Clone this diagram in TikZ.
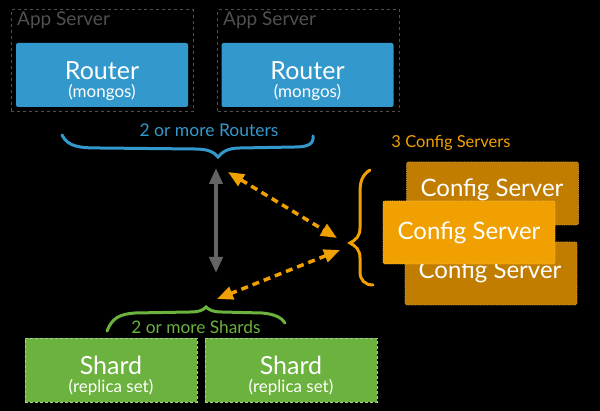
\documentclass[tikz,border=0pt]{standalone}
\usepackage{fontspec}
\setmainfont{Lato}
\usetikzlibrary{arrows.meta,positioning}

\definecolor{routerblue}{RGB}{51,153,204}
\definecolor{cfgdark}{RGB}{192,125,0}
\definecolor{cfgorange}{RGB}{240,160,0}
\definecolor{shardgreen}{RGB}{108,178,62}
\definecolor{appgray}{RGB}{80,80,80}
\definecolor{arrowgray}{RGB}{100,100,100}

\tikzset{
  appbox/.style={draw=appgray, dashed, line width=1pt, minimum width=182pt, minimum height=102pt},
  routerbox/.style={fill=routerblue, rounded corners=2pt, minimum width=172pt, minimum height=64pt, inner sep=0pt},
  cfgbox/.style={draw=#1!70!white, densely dotted, line width=0.8pt, fill=#1, rounded corners=2pt,
    minimum width=172pt, minimum height=63pt, text=white, inner sep=0pt, font=\fontsize{24}{24}\selectfont},
  shardbox/.style={draw=shardgreen!60!white, densely dashed, line width=0.8pt, fill=shardgreen,
    minimum width=172pt, minimum height=64pt, inner sep=0pt},
  bigtext/.style={text=white, anchor=base, inner sep=0pt, font=\fontsize{25}{26}\selectfont},
  smalltext/.style={text=white, anchor=base, inner sep=0pt, font=\fontsize{17}{17}\selectfont},
  bracestyle/.style={line width=3pt, line cap=round},
  twoway/.style={{Triangle[length=16pt,width=13pt]}-{Triangle[length=16pt,width=13pt]}},
}

\begin{document}
\begin{tikzpicture}[x=1pt, y=-1pt]
  % Fundo
  \fill[black] (0,0) rectangle (600,411);
  \useasboundingbox (0,0) rectangle (600,411);

  % App Servers e Routers
  \node[appbox] (app1) at (102,61) {};
  \node[appbox] (app2) at (308.5,61) {};
  \node[text=appgray, font=\fontsize{19}{20}\selectfont, anchor=north west, inner sep=0pt] (app1l) at (17,12) {App Server};
  \node[text=appgray, font=\fontsize{19}{20}\selectfont, anchor=north west, inner sep=0pt] (app2l) at (223,12) {App Server};
  \node[routerbox] (rt1) at (102,75) {};
  \node[routerbox] (rt2) at (307.5,75) {};
  \node[bigtext] (rt1a) at (102,80) {Router};
  \node[smalltext] (rt1b) at (102,98) {(mongos)};
  \node[bigtext] (rt2a) at (307.5,80) {Router};
  \node[smalltext] (rt2b) at (307.5,98) {(mongos)};

  % Chave dos routers
  \node[text=routerblue, font=\fontsize{17.5}{18}\selectfont] (rtlabel) at (209,130) {2 or more Routers};
  \coordinate (rtip) at (218,157);
  \draw[bracestyle, routerblue] (62,135) .. controls (68,147) and (80,148) .. (100,148)
    -- (195,149) .. controls (208,149) and (214,152) .. (rtip)
    .. controls (222,152) and (228,148) .. (240,148) -- (295,147)
    .. controls (308,147) and (314,144) .. (313,136);

  % Config Servers
  \node[text=cfgorange, font=\fontsize{16.5}{18}\selectfont] (cfglabel) at (451,143) {3 Config Servers};
  \node[cfgbox=cfgdark] (cfg1) at (492.5,193.5) {};
  \node[text=white, font=\fontsize{24}{24}\selectfont] (cfg1t) at (492,190) {Config Server};
  \node[cfgbox=cfgdark] (cfg3) at (491,273.5) {};
  \node[text=white, font=\fontsize{24}{24}\selectfont] (cfg3t) at (490,272) {Config Server};
  \node[cfgbox=cfgorange] (cfg2) at (469,232.5) {Config Server};

  % Chave dos config servers
  \coordinate (ctip) at (350,243);
  \draw[bracestyle, cfgorange] (370,170) .. controls (362,175) and (360,182) .. (360,192)
    -- (360,228) .. controls (360,236) and (356,240) .. (ctip)
    .. controls (356,246) and (360,250) .. (360,258) -- (360,272)
    .. controls (360,280) and (365,285) .. (373,285);

  % Shards
  \node[shardbox] (sh1) at (111,370) {};
  \node[shardbox] (sh2) at (291,370) {};
  \node[bigtext] (sh1a) at (111,375) {Shard};
  \node[smalltext] (sh1b) at (111,393) {(replica set)};
  \node[bigtext] (sh2a) at (291,375) {Shard};
  \node[smalltext] (sh2b) at (291,393) {(replica set)};
  \node[text=shardgreen, font=\fontsize{17.3}{18}\selectfont] (shlabel) at (196,327) {2 or more Shards};
  \coordinate (stip) at (206,307);
  \draw[bracestyle, shardgreen] (107,331) .. controls (112,318) and (120,314) .. (135,313)
    -- (190,312) .. controls (200,312) and (203,310) .. (stip)
    .. controls (209,310) and (213,312) .. (222,312) -- (262,313)
    .. controls (275,314) and (282,318) .. (285,323);

  % Setas
  \coordinate (ga) at (216,168);
  \coordinate (gb) at (216,273);
  \coordinate (oa) at (228,172);
  \coordinate (ob) at (337,238);
  \coordinate (oc) at (340,250);
  \coordinate (od) at (217,299);
  \draw[twoway, arrowgray, line width=4pt] (ga) -- (gb);
  \draw[twoway, cfgorange, line width=3.5pt, dash pattern=on 7pt off 5pt] (oa) -- (ob);
  \draw[twoway, cfgorange, line width=3.5pt, dash pattern=on 7pt off 5pt] (oc) -- (od);
\end{tikzpicture}
\end{document}
